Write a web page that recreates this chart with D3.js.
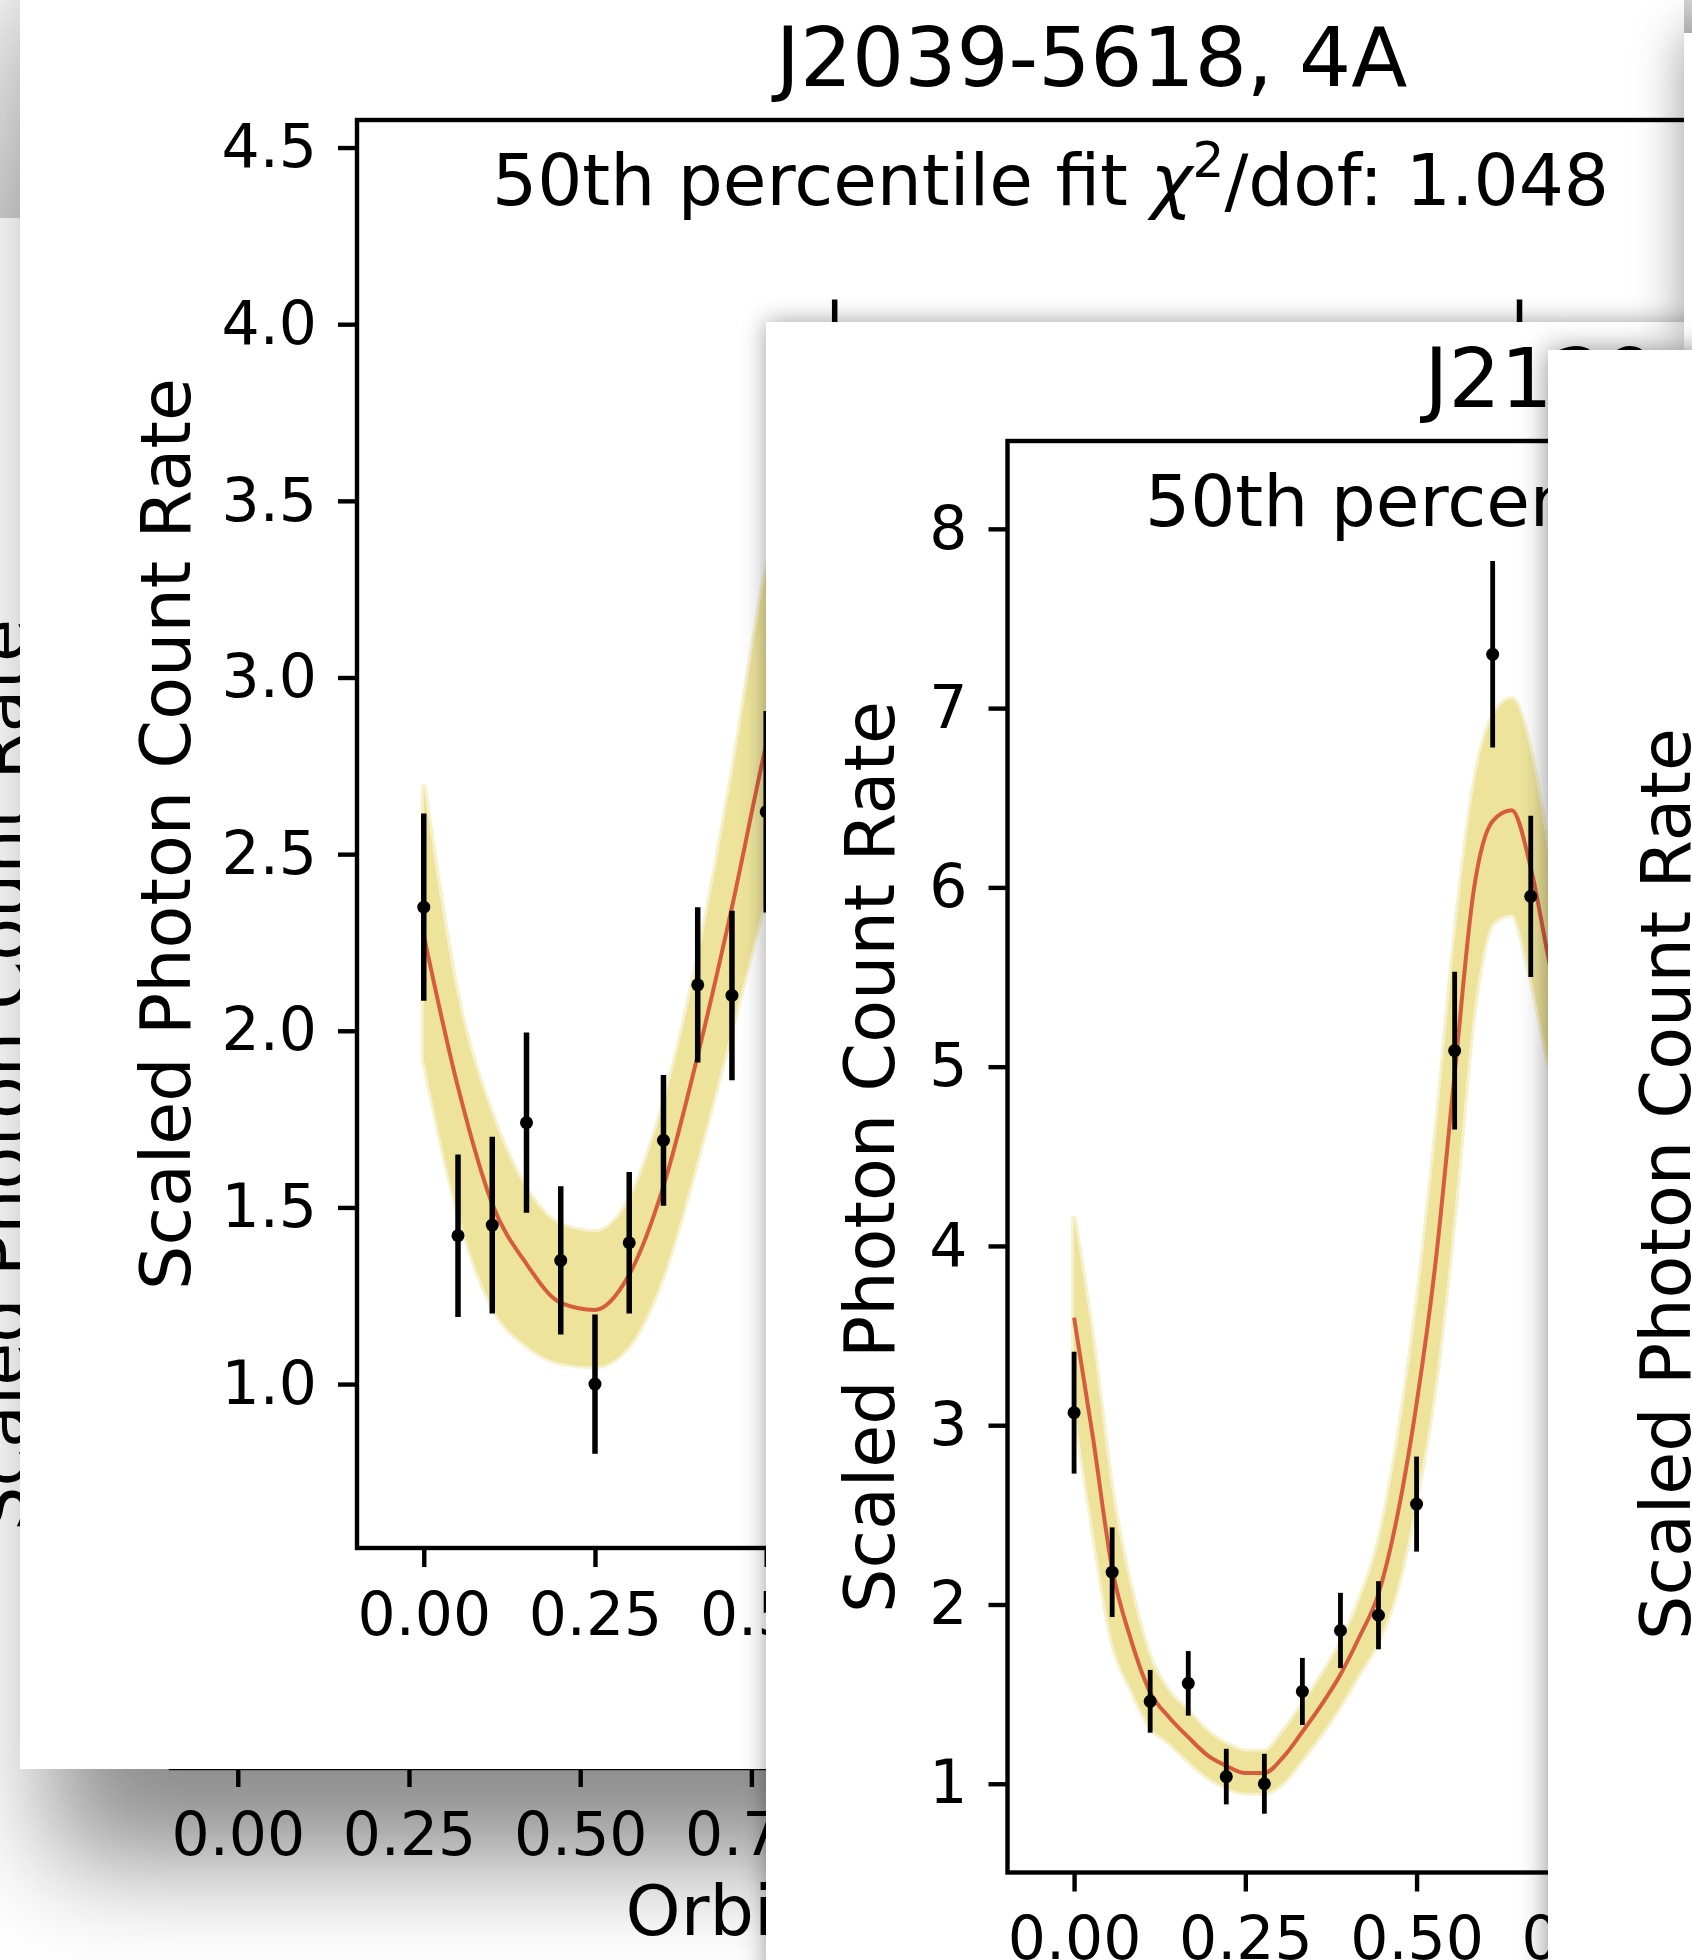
<!DOCTYPE html>
<html><head><meta charset="utf-8">
<script src="https://cdn.jsdelivr.net/npm/d3@7"></script>
<style>
html,body{margin:0;padding:0;background:#fff;}
svg{display:block;}
text{font-family:"DejaVu Sans",sans-serif;fill:#000;}
</style>
</head><body><script>
// ---------------- data ----------------
const yLabel = "Scaled Photon Count Rate";
const xLabel = "Orbital Phase";
const phaseTicks = [0, 0.25, 0.5, 0.75, 1.0, 1.25, 1.5, 1.75, 2.0];

// panel 1 : J2039-5618 (20 phase bins, plotted over two cycles)
const c1Title = "J2039-5618, 4A";
const c1Chi = "1.048";
const c1Phase = [0,0.05,0.1,0.15,0.2,0.25,0.3,0.35,0.4,0.45,0.5,0.55,0.6,0.65,0.7,0.75,0.8,0.85,0.9,0.95];
const c1Rate  = [2.35,1.42,1.45,1.74,1.35,1.00,1.40,1.69,2.13,2.10,2.62,2.95,3.78,3.45,3.30,3.10,3.00,2.80,2.60,2.45];
const c1Err   = [0.265,0.23,0.25,0.255,0.21,0.197,0.20,0.185,0.22,0.24,0.285,0.28,0.29,0.30,0.30,0.30,0.28,0.28,0.27,0.27];
const c1Fit   = [2.27,1.84,1.51,1.34,1.23,1.21,1.31,1.56,1.93,2.35,2.81,3.20,3.48,3.60,3.55,3.36,3.12,2.86,2.62,2.43];
const c1Lo    = [1.92,1.49,1.22,1.11,1.06,1.05,1.11,1.31,1.64,2.01,2.39,2.80,3.10,3.20,3.15,2.95,2.72,2.50,2.30,2.10];
const c1Hi    = [2.69,2.09,1.76,1.55,1.45,1.43,1.52,1.79,2.20,2.72,3.30,3.65,3.85,3.92,3.88,3.70,3.45,3.20,2.98,2.80];
const c1YTicks = [1.0,1.5,2.0,2.5,3.0,3.5,4.0,4.5];

// panel 2 : J21.. (18 phase bins)
const c2Title = "J2129-0429, 4A";
const c2Chi = "1.107";
const c2Phase = [0,0.0556,0.1111,0.1667,0.2222,0.2778,0.3333,0.3889,0.4444,0.5,0.5556,0.6111,0.6667,0.7222,0.7778,0.8333,0.8889,0.9444];
const c2Rate  = [3.07,2.18,1.46,1.56,1.04,1.00,1.515,1.855,1.94,2.56,5.09,7.30,5.95,5.20,4.60,4.30,4.00,3.70];
const c2Err   = [0.34,0.25,0.175,0.18,0.155,0.167,0.187,0.21,0.19,0.265,0.44,0.52,0.45,0.40,0.38,0.37,0.36,0.35];
const c2FitPhase = [0,0.0278,0.0556,0.0833,0.1111,0.1389,0.1667,0.1944,0.2222,0.25,0.2778,0.3056,0.3333,0.3611,0.3889,0.4167,0.4444,0.4722,0.5,0.5278,0.5556,0.5833,0.6111,0.6389,0.6667,0.6944,0.7222,0.75,0.7778,0.8056,0.8333,0.8611,0.8889,0.9167,0.9444,0.9722];
const c2Fit = [3.60,2.925,2.20,1.80,1.51,1.37,1.26,1.16,1.10,1.06,1.06,1.15,1.29,1.44,1.61,1.82,2.06,2.50,3.12,3.91,4.96,5.98,6.37,6.43,6.11,5.57,5.10,4.75,4.50,4.30,4.15,4.00,3.90,3.80,3.72,3.66];
const c2Lo  = [3.12,2.42,1.80,1.53,1.32,1.23,1.13,1.04,0.98,0.95,0.95,1.01,1.14,1.28,1.44,1.62,1.80,2.10,2.60,3.25,4.20,5.30,5.80,5.85,5.50,5.00,4.60,4.30,4.10,3.90,3.75,3.62,3.52,3.42,3.35,3.28];
const c2Hi  = [4.15,3.45,2.62,2.08,1.70,1.51,1.40,1.29,1.22,1.18,1.18,1.29,1.44,1.60,1.78,2.02,2.34,2.90,3.65,4.60,5.70,6.55,6.95,7.05,6.75,6.15,5.60,5.20,4.95,4.70,4.55,4.40,4.30,4.20,4.12,4.05];
const c2YTicks = [1,2,3,4,5,6,7,8];

// ---------------- drawing ----------------
const W = 1692, H = 1960;
const svg = d3.select("body").append("svg").attr("width", W).attr("height", H);
const defs = svg.append("defs");
svg.append("rect").attr("width", W).attr("height", H).attr("fill", "#fff");

function shadowFilter(id, sd, dx, dy, op) {
  const f = defs.append("filter").attr("id", id).attr("filterUnits", "userSpaceOnUse")
    .attr("x", -400).attr("y", -400).attr("width", W + 800).attr("height", H + 800);
  f.append("feGaussianBlur").attr("in", "SourceAlpha").attr("stdDeviation", sd).attr("result", "b");
  f.append("feOffset").attr("in", "b").attr("dx", dx).attr("dy", dy).attr("result", "o");
  f.append("feFlood").attr("flood-color", "#000").attr("flood-opacity", op).attr("result", "c");
  f.append("feComposite").attr("in", "c").attr("in2", "o").attr("operator", "in").attr("result", "s");
  const m = f.append("feMerge");
  m.append("feMergeNode").attr("in", "s");
  m.append("feMergeNode").attr("in", "SourceGraphic");
}
shadowFilter("sh1", 55, 30, 91, 0.45);
shadowFilter("sh2", 12, 0, 0, 0.38);
shadowFilter("sh3", 14, 0, 0, 0.45);
shadowFilter("sh4", 25, 0, 0, 0.4);

const grad = defs.append("linearGradient").attr("id", "tl").attr("x1", 0).attr("y1", 0).attr("x2", 0).attr("y2", 1);
grad.append("stop").attr("offset", 0).attr("stop-color", "#f4f4f4");
grad.append("stop").attr("offset", 1).attr("stop-color", "#cfcfcf");

function card(id, x, y, w, h, sh) {
  const g = svg.append("g").attr("id", id);
  g.append("rect").attr("x", x).attr("y", y).attr("width", w).attr("height", h)
    .attr("fill", "#fff").attr("filter", sh ? `url(#${sh})` : null);
  defs.append("clipPath").attr("id", id + "c").append("rect")
    .attr("x", x).attr("y", y).attr("width", w).attr("height", h);
  return g.append("g").attr("clip-path", `url(#${id}c)`);
}

function panel(g, o) {
  const x = d3.scaleLinear().domain(o.xDomain).range([o.left, o.right]);
  const y = d3.scaleLinear().domain(o.yDomain).range([o.bottom, o.top]);
  if (o.fit) {
    const band = [], line = [], pts = [];
    for (let c = 0; c < 2; c++) {
      o.fitPhase.forEach((p, i) => {
        band.push({p: p + c, lo: o.lo[i], hi: o.hi[i]});
        line.push({p: p + c, v: o.fit[i]});
      });
      o.phase.forEach((p, i) => pts.push({p: p + c, v: o.rate[i], e: o.err[i]}));
    }
    const area = d3.area().x(d => x(d.p)).y0(d => y(d.lo)).y1(d => y(d.hi)).curve(d3.curveMonotoneX);
    g.append("path").datum(band).attr("d", area)
      .attr("fill", "#efe6a0").attr("stroke", "#f6f1cc").attr("stroke-width", 6).attr("stroke-linejoin", "round");
    g.append("path").datum(band).attr("d", area).attr("fill", "#ede39a");
    g.append("path").datum(line)
      .attr("d", d3.line().x(d => x(d.p)).y(d => y(d.v)).curve(d3.curveMonotoneX))
      .attr("fill", "none").attr("stroke", "#d65c3e").attr("stroke-width", 4);
    g.append("g").selectAll("line").data(pts).join("line")
      .attr("x1", d => x(d.p)).attr("x2", d => x(d.p))
      .attr("y1", d => y(d.v - d.e)).attr("y2", d => y(d.v + d.e))
      .attr("stroke", "#000").attr("stroke-width", o.errW);
    g.append("g").selectAll("circle").data(pts).join("circle")
      .attr("cx", d => x(d.p)).attr("cy", d => y(d.v)).attr("r", o.dotR).attr("fill", "#000");
  }
  if (o.frame) {
    g.append("rect").attr("x", o.left).attr("y", o.top)
      .attr("width", o.right - o.left).attr("height", o.bottom - o.top)
      .attr("fill", "none").attr("stroke", "#000").attr("stroke-width", 4.4);
  }
  if (o.yTicks) {
    const ya = g.append("g").attr("transform", `translate(${o.left},0)`)
      .call(d3.axisLeft(y).tickValues(o.yTicks).tickFormat(o.yFmt).tickSize(19).tickPadding(21).tickSizeOuter(0));
    ya.select(".domain").remove();
    ya.selectAll("line").attr("stroke-width", 4.4);
    ya.selectAll("text").attr("font-size", 60);
  }
  const xa = g.append("g").attr("transform", `translate(0,${o.bottom})`)
    .call(d3.axisBottom(x).tickValues(phaseTicks).tickFormat(d3.format(".2f")).tickSize(19).tickPadding(25).tickSizeOuter(0));
  xa.select(".domain").remove();
  xa.selectAll("line").attr("stroke-width", 4.4);
  xa.selectAll("text").attr("font-size", 60);
  g.append("text").attr("x", o.xLabelX != null ? o.xLabelX : (o.left + o.right) / 2).attr("y", o.bottom + 167)
    .attr("text-anchor", "middle").attr("font-size", 70).text(xLabel);
  g.append("text").attr("transform", `translate(${o.labelX},${o.labelY}) rotate(-90)`)
    .attr("text-anchor", "middle").attr("font-size", 70).text(yLabel);
  if (o.title) {
    g.append("text").attr("x", (o.left + o.right) / 2).attr("y", o.top - 34)
      .attr("text-anchor", "middle").attr("font-size", 82).text(o.title);
    const t = g.append("text").attr("x", o.subX).attr("y", o.top + 85).attr("font-size", 71);
    t.append("tspan").text("50th percentile fit ");
    t.append("tspan").attr("font-style", "italic").text("χ");
    t.append("tspan").attr("font-size", 50).attr("dy", -28).text("2");
    t.append("tspan").attr("dy", 28).text("/dof: " + o.chi);
  }
}

// back layer (panel partly hidden behind the others)
const back = svg.append("g");
back.append("rect").attr("x", 0).attr("y", 0).attr("width", 20).attr("height", 218).attr("fill", "url(#tl)");
panel(back, {
  xDomain: [-0.0975, 2.0475], yDomain: [0.536, 4.578],
  left: 171, right: 1640, top: 340, bottom: 1768, xLabelX: 860,
  labelX: 26, labelY: 1075, frame: true
});

// panel 1
const g1 = card("card1", 20, -100, 1664, 1869, "sh1");
panel(g1, {
  xDomain: [-0.0975, 2.0475], yDomain: [0.536, 4.578],
  left: 357, right: 1826, top: 120, bottom: 1548,
  labelX: 190, labelY: 834, frame: true,
  title: c1Title, chi: c1Chi, subX: 492,
  fit: true, fitPhase: c1Phase, fit: c1Fit, lo: c1Lo, hi: c1Hi,
  phase: c1Phase, rate: c1Rate, err: c1Err, errW: 5.5, dotR: 6.5,
  yTicks: c1YTicks, yFmt: d3.format(".1f")
});

// panel 2
const g2 = card("card2", 766, 322, 1200, 1800, "sh2");
panel(g2, {
  xDomain: [-0.0972, 2.0417], yDomain: [0.505, 8.49],
  left: 1007.5, right: 2472.6, top: 441, bottom: 1872.5,
  labelX: 894, labelY: 1157, frame: true,
  title: c2Title, chi: c2Chi, subX: 1145,
  fit: true, fitPhase: c2FitPhase, fit: c2Fit, lo: c2Lo, hi: c2Hi,
  phase: c2Phase, rate: c2Rate, err: c2Err, errW: 4.8, dotR: 6.5,
  yTicks: c2YTicks, yFmt: d3.format("d")
});

// thin window edge at top right
card("card4", 1684, 33, 200, 317, "sh4");

// panel 3 (only its y label is inside the picture)
const g3 = card("card3", 1548, 350, 400, 1800, "sh3");
g3.append("text").attr("transform", "translate(1690,1184) rotate(-90)")
  .attr("text-anchor", "middle").attr("font-size", 70).text(yLabel);
</script></body></html>
